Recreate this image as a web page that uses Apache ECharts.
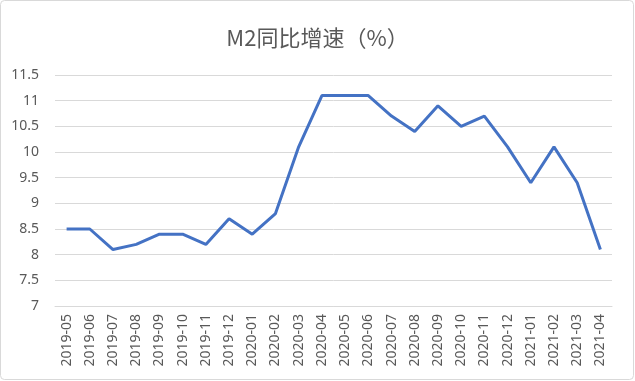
<!DOCTYPE html>
<html><head><meta charset="utf-8">
<script src="https://cdn.jsdelivr.net/npm/echarts@6/dist/echarts.min.js"></script>
<style>html,body{margin:0;padding:0;background:#fff;}#c{width:635px;height:381px;}</style>
</head><body><div id="c"></div>
<script>
const categories = ['2019-05','2019-06','2019-07','2019-08','2019-09','2019-10','2019-11','2019-12','2020-01','2020-02','2020-03','2020-04','2020-05','2020-06','2020-07','2020-08','2020-09','2020-10','2020-11','2020-12','2021-01','2021-02','2021-03','2021-04'];
const m2Growth = [8.5,8.5,8.1,8.2,8.4,8.4,8.2,8.7,8.4,8.8,10.1,11.1,11.1,11.1,10.7,10.4,10.9,10.5,10.7,10.1,9.4,10.1,9.4,8.1];
const titleText = 'M2同比增速（%）';
const chart = echarts.init(document.getElementById('c'));
chart.setOption({
  animation:false,
  backgroundColor:'#fff',
  graphic:[{type:'rect',shape:{x:0.5,y:0.5,width:633,height:379,r:4},style:{fill:'none',stroke:'#d9d9d9',lineWidth:1}}],
  title:{text:titleText,left:'center',top:22,textStyle:{fontFamily:'Noto Sans CJK SC',fontSize:22,fontWeight:'normal',color:'#595959'}},
  grid:{left:55,right:23,top:75,bottom:75},
  xAxis:{type:'category',data:categories,boundaryGap:true,
    axisLine:{lineStyle:{color:'#d9d9d9',width:1}},axisTick:{show:false},
    axisLabel:{rotate:90,interval:0,color:'#595959',fontSize:14,fontFamily:'Noto Sans',margin:8}},
  yAxis:{type:'value',min:7,max:11.5,interval:0.5,
    axisLine:{show:false},axisTick:{show:false},
    splitLine:{lineStyle:{color:'#d9d9d9',width:1}},
    axisLabel:{color:'#595959',fontSize:14,fontFamily:'Noto Sans',margin:16}},
  series:[{type:'line',data:m2Growth,symbol:'none',lineStyle:{color:'#4472C4',width:3},itemStyle:{color:'#4472C4'}}]
});
</script></body></html>
